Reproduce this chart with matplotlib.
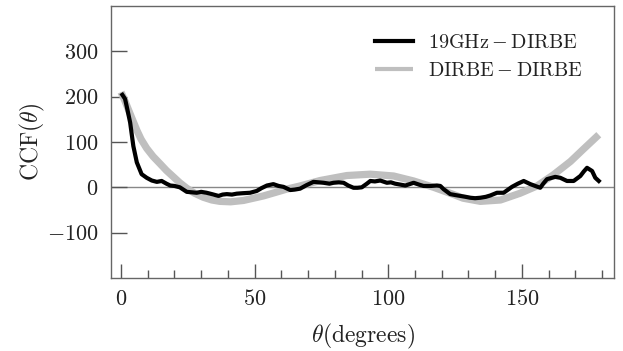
import matplotlib
matplotlib.use("Agg")
import matplotlib.pyplot as plt
from matplotlib.ticker import MultipleLocator

# 19GHz-DIRBE cross-correlation
theta_19 = [0.5, 1.5, 2.1, 3.4, 4.6, 5.9, 7.7, 9.6, 11.5, 13.4, 15.2, 17, 18.4, 20,
            22, 24.6, 26.5, 28.3, 30, 32, 34, 36.5, 38, 39.6, 41.5, 43.3, 45.5, 48.3,
            50.8, 52.5, 54.6, 57, 59, 60.8, 63.3, 65, 67, 69.5, 72, 74, 75.8, 78, 79.5,
            81.5, 83.3, 85, 87, 88.5, 90.1, 92, 93.3, 95, 97, 99.5, 101, 102.6, 104.5,
            106.4, 108, 109.5, 111.5, 113.2, 116, 118.2, 119.5, 120.7, 123.2, 125, 127,
            129, 130.7, 132.5, 134.5, 136.5, 138.2, 140.7, 143.2, 146.3, 148.5, 150.7,
            153.2, 155, 156.9, 158, 159.4, 162.5, 164.4, 166.9, 169.4, 171.9, 173.2,
            174.4, 176.3, 177.5, 178.8]
ccf_19 = [204, 195, 179, 143, 91, 55, 29, 21, 15, 12, 14, 8, 4, 3,
          0, -10, -11, -12, -10, -12, -15, -19, -16, -15, -16, -14, -13, -12,
          -8, -2, 4, 7, 3, 1, -6, -5, -3, 5, 12, 11, 10, 8, 10,
          11, 10, 4, -1, -1, 0, 8, 14, 13, 15, 10, 11, 8, 6,
          4, 7, 10, 6, 3, 3, 4, 3, -4, -15, -17, -19,
          -21, -23, -24, -23, -21, -18, -12, -12, 1, 8, 14,
          7, 3, -1, 8, 18, 23, 21, 14, 14, 25, 35,
          43, 36, 21, 14]

# DIRBE-DIRBE auto-correlation
theta_dd = [0, 1.5, 3.4, 5.9, 7.5, 9.6, 12, 14.6, 17, 19.6, 22, 24.6, 27.5, 30.8,
            34, 37, 41, 45.8, 53.3, 62, 67, 74.5, 84.5, 93.3, 102, 109.5, 117,
            124.5, 128, 134.5, 142, 149.4, 155.7, 161.9, 168.2, 173.2, 178.8]
ccf_dd = [210, 190, 162, 126, 106, 86, 68, 52, 37, 23, 10, -2, -13, -22,
          -28, -31, -32, -29, -19, -4, 3, 15, 26, 29, 25, 14, 0,
          -16, -24, -31, -28, -13, 3, 28, 57, 85, 116]

plt.rcParams["font.family"] = "cmr10"
plt.rcParams["mathtext.fontset"] = "cm"
plt.rcParams["axes.formatter.use_mathtext"] = True

fig = plt.figure(figsize=(6.23, 3.51), dpi=100)
ax = fig.add_axes([0.178, 0.208, 0.808, 0.775])

ax.axhline(0, color="#888888", lw=1.0, zorder=1)
ax.plot(theta_dd, ccf_dd, color="#bfbfbf", lw=5.2, solid_capstyle="butt",
        solid_joinstyle="round", label=r"$\mathrm{DIRBE-DIRBE}$", zorder=2)
ax.plot(theta_19, ccf_19, color="black", lw=3.0, solid_joinstyle="round",
        label=r"$\mathrm{19GHz-DIRBE}$", zorder=3)

ax.set_xlim(-3.8, 184.6)
ax.set_ylim(-200, 400)
ax.set_yticks([-100, 0, 100, 200, 300])
ax.xaxis.set_major_locator(MultipleLocator(50))
ax.xaxis.set_minor_locator(MultipleLocator(10))

ax.tick_params(axis="x", which="major", direction="in", length=10, width=1,
               color="#555555", pad=8, labelsize=16, labelcolor="#222222", top=False)
ax.tick_params(axis="x", which="minor", direction="in", length=5.5, width=1,
               color="#555555", top=False)
ax.tick_params(axis="y", which="major", direction="in", length=11.5, width=1,
               color="#555555", pad=9, labelsize=16, labelcolor="#222222", right=False)

for sp in ax.spines.values():
    sp.set_color("#666666")
    sp.set_linewidth(1.0)

ax.set_xlabel(r"$\theta$(degrees)", fontsize=17, labelpad=9, color="#222222")
ax.set_ylabel(r"CCF($\theta$)", fontsize=17, labelpad=0, color="#222222")

handles, labels = ax.get_legend_handles_labels()
leg = ax.legend(handles[::-1], labels[::-1], loc="upper right", frameon=False,
                fontsize=14.5, handlelength=1.9, handletextpad=0.75,
                labelspacing=0.5, borderaxespad=0,
                bbox_to_anchor=(1 - 23 / 503, 1 - 20 / 272))
for line in leg.get_lines():
    line.set_linewidth(3.0)
for t in leg.get_texts():
    t.set_color("#222222")

fig.savefig("out.png", dpi=100)
